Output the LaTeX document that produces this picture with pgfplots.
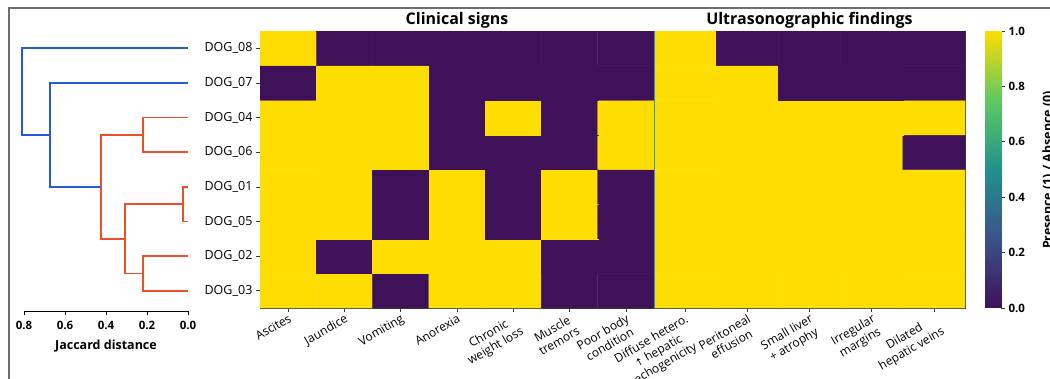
\documentclass[border=0pt]{standalone}
\usepackage{pgfplots}
\pgfplotsset{compat=1.18}
\usepackage{fontspec}
\setmainfont{Open Sans}
\newfontfamily\symfont{DejaVu Sans}

\definecolor{linkblue}{RGB}{38,88,218}
\definecolor{linkred}{RGB}{238,78,40}
\definecolor{sepcyan}{RGB}{30,150,210}
\definecolor{spine}{RGB}{60,60,60}
\definecolor{framegray}{RGB}{110,110,110}

\newcommand{\fs}[1]{\fontsize{#1}{#1}\selectfont}

\pgfplotsset{
  presence map/.style={
    colormap={presence}{rgb255(0cm)=(62,17,88); rgb255(1cm)=(59,82,139);
      rgb255(2cm)=(33,145,140); rgb255(3cm)=(94,201,98); rgb255(4cm)=(253,222,0)},
    point meta min=0, point meta max=1,
  },
  heat/.style={
    presence map,
    scale only axis,
    height=277pt,
    enlargelimits=false,
    ymin=-0.5, ymax=7.5,
    axis line style={spine, line width=0.6pt},
    tick style={spine, line width=0.6pt},
    major tick length=4pt,
    tick align=outside,
    xtick pos=bottom, ytick pos=left,
    xticklabel style={font=\fontsize{12}{14}\selectfont, align=center,
      rotate=30, anchor=north east, inner sep=1pt},
    yticklabel style={font=\fs{12.5}},
    title style={font=\bfseries\fs{16}, yshift=-7pt},
  },
  presence cells/.style={matrix plot*, shader=faceted, faceted color=mapped color,
    line width=0.4pt, point meta=explicit},
}

\pgfplotstableread{
x y c
0 0 1
1 0 1
2 0 0
3 0 1
4 0 1
5 0 0
6 0 0
0 1 1
1 1 0
2 1 1
3 1 1
4 1 1
5 1 0
6 1 0
0 2 1
1 2 1
2 2 0
3 2 1
4 2 0
5 2 1
6 2 0
0 3 1
1 3 1
2 3 0
3 3 1
4 3 0
5 3 1
6 3 0
0 4 1
1 4 1
2 4 1
3 4 0
4 4 0
5 4 0
6 4 1
0 5 1
1 5 1
2 5 1
3 5 0
4 5 1
5 5 0
6 5 1
0 6 0
1 6 1
2 6 1
3 6 0
4 6 0
5 6 0
6 6 0
0 7 1
1 7 0
2 7 0
3 7 0
4 7 0
5 7 0
6 7 0
}\clinical

\pgfplotstableread{
x y c
0 0 1
1 0 1
2 0 1
3 0 1
4 0 1
0 1 1
1 1 1
2 1 1
3 1 1
4 1 1
0 2 1
1 2 1
2 2 1
3 2 1
4 2 1
0 3 1
1 3 1
2 3 1
3 3 1
4 3 1
0 4 1
1 4 1
2 4 1
3 4 1
4 4 0
0 5 1
1 5 1
2 5 1
3 5 1
4 5 1
0 6 1
1 6 1
2 6 0
3 6 0
4 6 0
0 7 1
1 7 0
2 7 0
3 7 0
4 7 0
}\ultrasound

\begin{document}
\begin{tikzpicture}
\useasboundingbox (0pt,0pt) rectangle (1050pt,378pt);
\draw[framegray, line width=1.1pt] (9pt,-2pt) -- (9pt,370pt) -- (1052pt,370pt);

% dendrogram (average linkage, Jaccard distance)
\begin{axis}[
  at={(24pt,67pt)}, anchor=south west,
  scale only axis, width=164pt, height=280pt,
  xmin=0, xmax=0.8, x dir=reverse,
  ymin=-0.587, ymax=7.5,
  clip=false,
  hide y axis,
  axis x line*=bottom,
  axis line style={black, line width=0.7pt},
  tick style={black, line width=0.7pt},
  major tick length=4pt,
  tick align=outside,
  xtick={0,0.2,0.4,0.6,0.8},
  xticklabels={0.0,0.2,0.4,0.6,0.8},
  xticklabel style={font=\bfseries\fs{11.5}, yshift=-3pt},
  xlabel={Jaccard distance},
  xlabel style={font=\bfseries\fs{12.5}, yshift=-3pt},
]
\addplot[linkred, line width=1.7pt] coordinates {(0,3) (0.024,3) (0.024,2) (0,2)};
\addplot[linkred, line width=1.7pt] coordinates {(0,1) (0.22,1) (0.22,0) (0,0)};
\addplot[linkred, line width=1.7pt] coordinates {(0,5) (0.22,5) (0.22,4) (0,4)};
\addplot[linkred, line width=1.7pt] coordinates {(0.024,2.5) (0.306,2.5) (0.306,0.5) (0.22,0.5)};
\addplot[linkred, line width=1.7pt] coordinates {(0.22,4.5) (0.424,4.5) (0.424,1.5) (0.306,1.5)};
\addplot[linkblue, line width=1.7pt] coordinates {(0,6) (0.673,6) (0.673,3) (0.424,3)};
\addplot[linkblue, line width=1.7pt] coordinates {(0,7) (0.81,7) (0.81,4.5) (0.673,4.5)};
\end{axis}

% clinical signs
\begin{axis}[
  heat,
  at={(260pt,70pt)}, anchor=south west,
  width=394pt,
  xmin=-0.5, xmax=6.5,
  title={Clinical signs},
  xtick={0,...,6},
  xticklabels={Ascites, Jaundice, Vomiting, Anorexia, {Chronic\\weight loss},
    {Muscle\\tremors}, {Poor body\\condition}},
  ytick={0,...,7},
  yticklabels={DOG\_03, DOG\_02, DOG\_05, DOG\_01, DOG\_06, DOG\_04, DOG\_07, DOG\_08},
]
\addplot[presence cells, mesh/cols=7] table[x=x, y=y, meta=c] {\clinical};
\end{axis}

% ultrasonographic findings
\begin{axis}[
  heat,
  at={(654pt,70pt)}, anchor=south west,
  width=311pt,
  xmin=-0.5, xmax=4.5,
  title={Ultrasonographic findings},
  xtick={0,...,4},
  xticklabels={{Diffuse hetero.\\{\symfont\fs{10}↑} hepatic\\echogenicity},
    {Peritoneal\\effusion}, {Small liver\\+ atrophy}, {Irregular\\margins},
    {Dilated\\hepatic veins}},
  ytick=\empty,
]
\addplot[presence cells, mesh/cols=5] table[x=x, y=y, meta=c] {\ultrasound};
\draw[sepcyan, line width=2pt] (axis cs:-0.5,-0.5) -- (axis cs:-0.5,7.5);
\end{axis}

% colour scale
\begin{axis}[
  presence map,
  at={(985pt,70pt)}, anchor=south west,
  scale only axis, width=16pt, height=277pt,
  xmin=0, xmax=1, ymin=0, ymax=1,
  enlargelimits=false,
  axis line style={draw=none},
  xtick=\empty,
  ytick={0,0.2,0.4,0.6,0.8,1},
  yticklabels={0.0,0.2,0.4,0.6,0.8,1.0},
  ytick pos=right, yticklabel pos=right,
  yticklabel style={font=\bfseries\fs{11.5}},
  tick style={spine, line width=0.6pt},
  major tick length=4pt,
  tick align=outside,
]
\addplot[surf, shader=interp, point meta=y, mesh/cols=2]
  coordinates {(0,0) (1,0) (0,1) (1,1)};
\end{axis}

\node[rotate=90, font=\bfseries\fs{12.5}] at (1048pt,208pt) {Presence (1) / Absence (0)};
\end{tikzpicture}
\end{document}
